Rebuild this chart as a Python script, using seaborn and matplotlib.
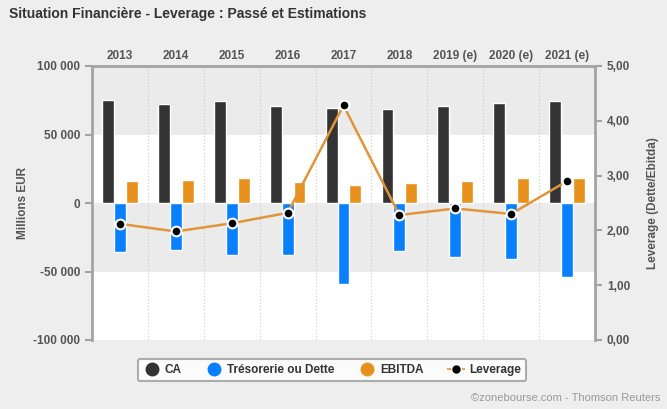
import matplotlib
matplotlib.use("Agg")
import matplotlib.pyplot as plt
from matplotlib.lines import Line2D
import numpy as np
import pandas as pd
import seaborn as sns

years = ['2013', '2014', '2015', '2016', '2017', '2018', '2019 (e)', '2020 (e)', '2021 (e)']
ca = [75200, 72300, 74500, 70800, 69100, 68400, 70800, 72800, 74500]
tresorerie = [-35900, -34400, -38100, -38100, -59000, -35200, -39500, -41200, -54100]
ebitda = [16400, 17100, 17900, 15500, 13300, 14700, 16400, 17900, 18600]
leverage = [2.12, 1.98, 2.13, 2.32, 4.28, 2.28, 2.40, 2.30, 2.90]

series_names = ['CA', 'Trésorerie ou Dette', 'EBITDA']
colors = ['#333333', '#0a7ffc', '#e8901c']
line_color = '#e0953a'

sns.set_style('white')
plt.rcParams['font.family'] = ['Liberation Sans', 'DejaVu Sans']
bg = '#eeeeee'
txt = '#555555'
axc = '#a3a3a3'

df = pd.DataFrame({
    'year': years * 3,
    'serie': [s for s in series_names for _ in years],
    'value': ca + tresorerie + ebitda,
})

fig = plt.figure(figsize=(6.67, 4.09), dpi=100, facecolor=bg)
ax = fig.add_axes([92 / 667, 1 - 340 / 409, (595 - 92) / 667, (340 - 66) / 409])
ax.set_facecolor('white')

# bandes grises
ax.axhspan(50000, 100000, color='#ebebeb', zorder=0, lw=0)
ax.axhspan(-50000, 0, color='#ebebeb', zorder=0, lw=0)

sns.barplot(data=df, x='year', y='value', hue='serie', order=years, hue_order=series_names,
            palette=colors, width=0.64, saturation=1, ax=ax, legend=False, zorder=3)

for xv in np.arange(0.5, len(years) - 0.5, 1):
    ax.axvline(xv, color='#c8c8c8', ls=(0, (1, 2)), lw=0.8, zorder=1)

ax.set_xlim(-0.5, len(years) - 0.5)
ax.set_ylim(-100000, 100000)
ax.set_yticks([-100000, -50000, 0, 50000, 100000])
ax.set_yticklabels(['-100 000', '-50 000', '0', '50 000', '100 000'])
ax.xaxis.tick_top()
ax.set_xlabel('')
ax.set_ylabel('Millions EUR', fontsize=8.5, fontweight='bold', color=txt, labelpad=3)
ax.tick_params(axis='x', length=0, labelsize=8.5, labelcolor=txt, pad=3)
ax.tick_params(axis='y', length=5, width=1.5, color=axc, labelsize=8.5, labelcolor=txt, direction='out', left=True)
for lab in ax.get_xticklabels() + ax.get_yticklabels():
    lab.set_fontweight('bold')

for side in ['left', 'top', 'right']:
    ax.spines[side].set_color(axc)
    ax.spines[side].set_linewidth(2)
ax.spines['bottom'].set_visible(False)

ax2 = ax.twinx()
sns.lineplot(x=np.arange(len(years)), y=leverage, ax=ax2, color=line_color, lw=1.8,
             marker='o', markersize=7, markerfacecolor='black', markeredgecolor='white',
             markeredgewidth=1.5, zorder=5)
ax2.set_ylim(0, 5)
ax2.set_yticks([0, 1, 2, 3, 4, 5])
ax2.set_yticklabels(['0,00', '1,00', '2,00', '3,00', '4,00', '5,00'])
ax2.set_ylabel('Leverage (Dette/Ebitda)', fontsize=8.5, fontweight='bold', color=txt, labelpad=12)
ax2.tick_params(axis='y', length=5, width=1.5, color=axc, labelsize=8.5, labelcolor=txt, direction='out', right=True)
for lab in ax2.get_yticklabels():
    lab.set_fontweight('bold')
for side in ['left', 'top', 'right', 'bottom']:
    ax2.spines[side].set_visible(False)
ax2.set_xlim(-0.5, len(years) - 0.5)

fig.text(9 / 667, 1 - 14 / 409, 'Situation Financière - Leverage : Passé et Estimations',
         fontsize=10, fontweight='bold', color='#333333', va='center')
fig.text(660 / 667, 1 - 398 / 409, '©zonebourse.com - Thomson Reuters',
         fontsize=8, color='#999999', ha='right', va='center')

handles = [Line2D([], [], ls='', marker='o', markersize=9, color=c) for c in colors]
handles.append(Line2D([], [], ls=(0, (2.5, 2)), color=line_color, lw=1.2, marker='o',
                      markersize=5, markerfacecolor='black', markeredgecolor='black'))
leg = fig.legend(handles, series_names + ['Leverage'], loc='center', ncol=4,
                 bbox_to_anchor=(332 / 667, 1 - 370 / 409), frameon=True, fancybox=True,
                 handlelength=1.5, handletextpad=0.35, columnspacing=2.0, borderpad=0.45,
                 prop={'weight': 'bold', 'size': 8.5})
leg.get_frame().set_edgecolor('#9a9a9a')
leg.get_frame().set_linewidth(1.5)
for t in leg.get_texts():
    t.set_color('#333333')

fig.savefig('out.png', dpi=100, facecolor=bg)
